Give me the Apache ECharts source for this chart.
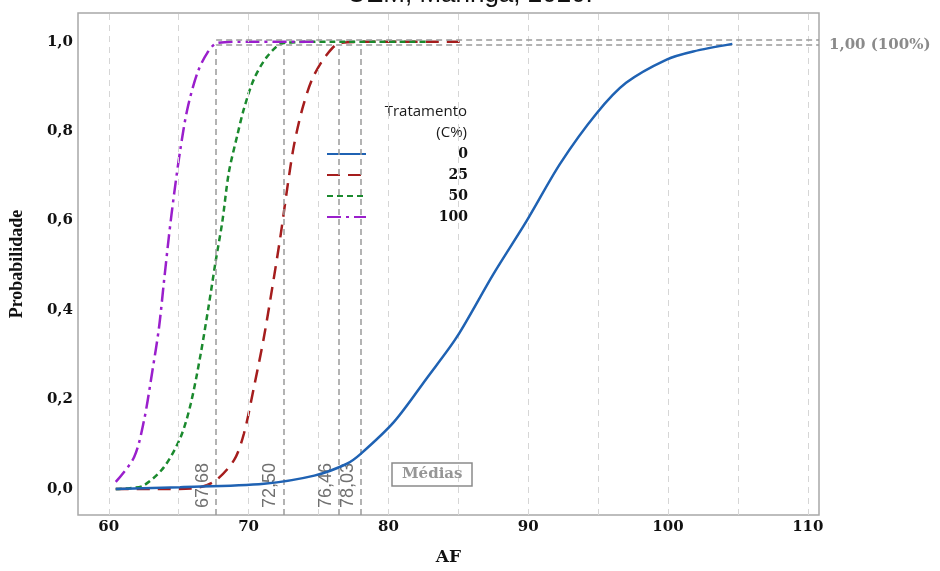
<!DOCTYPE html>
<html>
<head>
<meta charset="utf-8">
<script src="https://cdn.jsdelivr.net/npm/echarts@6/dist/echarts.min.js"></script>
<style>
  html, body { margin: 0; padding: 0; background: #fff; }
  #chart { width: 940px; height: 571px; }
</style>
</head>
<body>
<div id="chart"></div>
<script>
// curvas de probabilidade acumulada por tratamento (AF, probabilidade)
var trat0 = [[60.5, 0.0], [65.1, 0.004], [71.1, 0.012], [74.7, 0.03], [77.0, 0.056], [78.0, 0.078],
  [80.4, 0.15], [82.8, 0.25], [84.9, 0.34], [87.5, 0.48], [89.9, 0.6], [92.3, 0.728],
  [94.9, 0.84], [97.0, 0.908], [99.9, 0.96], [101.8, 0.978], [104.6, 0.995]]
var trat25 = [[60.5, 0.0], [63.5, 0.0], [65.9, 0.001], [67.5, 0.016], [68.95, 0.064], [69.66, 0.123], [70.38, 0.227],
  [71.09, 0.338], [71.69, 0.449], [72.29, 0.567], [72.76, 0.671], [73.24, 0.767], [73.84, 0.849],
  [74.55, 0.916], [75.5, 0.967], [76.57, 0.997], [80.0, 1.0], [85.3, 1.0]]
var trat50 = [[60.5, 0.0], [61.5, 0.002], [62.5, 0.008], [63.95, 0.049], [65.14, 0.116], [65.86, 0.19], [66.57, 0.301],
  [67.16, 0.412], [67.64, 0.508], [68.12, 0.597], [68.59, 0.708], [69.19, 0.79], [69.66, 0.849],
  [70.38, 0.916], [71.34, 0.967], [72.52, 0.997], [76.0, 1.0], [82.8, 1.0]]
var trat100 = [[60.5, 0.016], [61.81, 0.071], [62.52, 0.153], [63.12, 0.264], [63.59, 0.36], [63.95, 0.464],
  [64.31, 0.567], [64.66, 0.656], [65.09, 0.753], [65.62, 0.849], [66.34, 0.93], [67.05, 0.975],
  [67.76, 0.997], [70.0, 1.0], [75.0, 1.0]]

var medias = [67.68, 72.50, 76.46, 78.03]
var xTicks = [60, 70, 80, 90, 100, 110]
var xGrade = [60, 65, 70, 75, 80, 85, 90, 95, 100, 105, 110]
var yTicks = [0, 0.2, 0.4, 0.6, 0.8, 1.0]
var linhaTopo = [1.004, 0.993]

var xMin = 57.8, xMax = 110.8, yMin = -0.058, yMax = 1.064

var chart = echarts.init(document.getElementById('chart'))

var serif = '"DejaVu Serif"'

function virgula(v, d) {
  return v.toFixed(d).replace('.', ',')
}

var linhasMedias = medias.map(function (m) {
  return [
    { coord: [m, yMin], name: virgula(m, 2) },
    { coord: [m, linhaTopo[1]] }
  ]
})

var linhasTopo = linhaTopo.map(function (y, i) {
  return [
    { coord: [medias[0], y], name: i === 1 ? '1,00 (100%)' : '' },
    { coord: [xMax, y] }
  ]
})

function curva(nome, dados, cor, tipo, z) {
  return {
    name: nome,
    type: 'line',
    data: dados,
    smooth: 0.3,
    symbol: 'none',
    z: z,
    color: cor,
    lineStyle: { width: 2.5, color: cor, type: tipo }
  }
}

chart.setOption({
  animation: false,
  title: [
    {
      text: 'UEM, Maringá, 2020.',
      left: 'center',
      top: -18,
      padding: 0,
      textStyle: { fontFamily: '"Liberation Sans"', fontSize: 26, fontWeight: 'normal', color: '#111' }
    },
    {
      text: 'Médias',
      left: 392,
      top: 463,
      padding: [4, 10, 4, 10],
      borderColor: '#8a8a8a',
      borderWidth: 1.5,
      textStyle: { fontFamily: serif, fontSize: 15, fontWeight: 'bold', color: '#969696' }
    }
  ],
  grid: {
    left: 77,
    right: 121,
    top: 13,
    bottom: 53,
    show: true,
    borderColor: '#a8a8a8',
    borderWidth: 1.5
  },
  legend: {
    orient: 'vertical',
    left: 321,
    top: 142,
    itemWidth: 39,
    itemHeight: 14,
    itemGap: 7,
    data: ['0', '25', '50', '100'],
    itemStyle: { color: 'rgba(0,0,0,0)', borderWidth: 0 },
    formatter: function (name) {
      return '{n|' + name + '}'
    },
    textStyle: {
      rich: {
        n: { width: 97, align: 'right', lineHeight: 14, fontFamily: serif, fontSize: 14, fontWeight: 'bold', color: '#111' }
      }
    }
  },
  graphic: [
    {
      type: 'text',
      style: { text: 'Tratamento', x: 467, y: 112, align: 'right', verticalAlign: 'middle', fill: '#1a1a1a', font: '500 15px "Open Sans"' }
    },
    {
      type: 'text',
      style: { text: '(C%)', x: 467, y: 133, align: 'right', verticalAlign: 'middle', fill: '#1a1a1a', font: '500 15px "Open Sans"' }
    }
  ],
  xAxis: {
    type: 'value',
    min: xMin,
    max: xMax,
    name: 'AF',
    nameLocation: 'middle',
    nameGap: 34,
    nameTextStyle: { fontFamily: serif, fontSize: 17, fontWeight: 'bold', color: '#111' },
    axisLine: { show: false },
    axisTick: { show: false },
    splitLine: { show: false },
    axisLabel: {
      customValues: xTicks,
      margin: 5,
      fontFamily: serif,
      fontSize: 15,
      fontWeight: 'bold',
      color: '#111'
    }
  },
  yAxis: {
    type: 'value',
    min: yMin,
    max: yMax,
    name: 'Probabilidade',
    nameLocation: 'middle',
    nameGap: 52,
    nameTextStyle: { fontFamily: '"Liberation Serif"', fontSize: 18, fontWeight: 'bold', color: '#111' },
    axisLine: { show: false },
    axisTick: { show: false },
    splitLine: { show: false },
    axisLabel: {
      customValues: yTicks,
      margin: 5,
      fontFamily: serif,
      fontSize: 15,
      fontWeight: 'bold',
      color: '#111',
      formatter: function (v) { return virgula(v, 1) }
    }
  },
  series: [
    {
      name: 'grade',
      type: 'line',
      data: [],
      silent: true,
      markLine: {
        silent: true,
        symbol: 'none',
        label: { show: false },
        lineStyle: { color: '#d6d6d6', width: 1, type: [6, 5] },
        data: xGrade.map(function (v) { return { xAxis: v } })
      }
    },
    {
      name: 'medias',
      type: 'line',
      data: [],
      silent: true,
      z: 1,
      markLine: {
        silent: true,
        symbol: 'none',
        lineStyle: { color: '#9a9a9a', width: 1.5, type: [6, 4] },
        label: {
          show: true,
          formatter: '{b}',
          position: 'insideStartTop',
          distance: [7, 4],
          fontFamily: '"Liberation Sans"',
          fontSize: 18,
          color: '#707070'
        },
        data: linhasMedias
      }
    },
    {
      name: 'topo',
      type: 'line',
      data: [],
      silent: true,
      z: 1,
      markLine: {
        silent: true,
        symbol: 'none',
        lineStyle: { color: '#9a9a9a', width: 1.5, type: [6, 4] },
        label: {
          show: true,
          formatter: '{b}',
          position: 'end',
          distance: 10,
          fontFamily: serif,
          fontSize: 15,
          fontWeight: 'bold',
          color: '#8a8a8a'
        },
        data: linhasTopo
      }
    },
    curva('0', trat0, '#1f62b3', 'solid', 5),
    curva('25', trat25, '#a51d1d', [13, 8], 4),
    curva('50', trat50, '#1b8a2e', [6, 4], 4),
    curva('100', trat100, '#9a1fcc', [14, 5, 3, 5], 4)
  ]
})
</script>
</body>
</html>
